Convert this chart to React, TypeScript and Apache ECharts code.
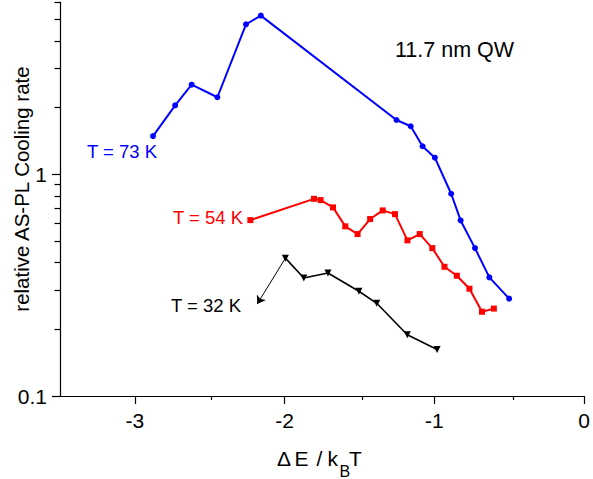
import React, { useEffect, useRef } from "react";
import * as echarts from "echarts";

const FONT = "'Liberation Sans', Arial, Helvetica, sans-serif";

// Axis ticks
const xTickValues = [-3, -2, -1, 0];
const xMinorTickValues = [-2.5, -1.5, -0.5];
const yTickValues = [0.1, 1];
const yMinorTickValues = [0.2, 0.3, 0.4, 0.5, 0.6, 0.7, 0.8, 0.9, 2, 3, 4, 5, 6];

// T = 73 K (blue)
const x73 = [-2.879, -2.731, -2.621, -2.449, -2.258, -2.159, -1.253, -1.158, -1.079, -0.997, -0.888, -0.825, -0.729, -0.633, -0.501];
const y73 = [1.49, 2.05, 2.54, 2.23, 4.76, 5.21, 1.76, 1.65, 1.34, 1.19, 0.818, 0.62, 0.465, 0.343, 0.275];

// T = 54 K (red)
const x54 = [-2.229, -1.804, -1.76, -1.677, -1.595, -1.513, -1.429, -1.345, -1.263, -1.18, -1.098, -1.014, -0.933, -0.85, -0.766, -0.682, -0.603];
const y54 = [0.622, 0.776, 0.766, 0.71, 0.583, 0.538, 0.629, 0.688, 0.662, 0.504, 0.538, 0.465, 0.383, 0.349, 0.305, 0.24, 0.248];

// T = 32 K (black)
const x32 = [-1.995, -1.872, -1.711, -1.504, -1.385, -1.181, -0.982];
const y32 = [0.419, 0.341, 0.359, 0.297, 0.262, 0.189, 0.162];

// Arrow from the 32 K peak to its label
const arrowStart = [-1.995, 0.419];
const arrowEnd = [-2.183, 0.26];

const zip = (xs: number[], ys: number[]) => xs.map((x, i) => [x, ys[i]]);

const fmt = (v: number) => String(Number(Number(v).toPrecision(6)));

const W = 593;
const H = 479;
const GRID = { left: 60, right: 4, top: 2, bottom: 83 };

export default function App() {
  const ref = useRef<HTMLDivElement>(null);

  useEffect(() => {
    if (!ref.current) return;
    const chart = echarts.init(ref.current, null, { renderer: "svg" });
    const axisColor = "#000";
    chart.setOption({
      animation: false,
      backgroundColor: "#fff",
      // grid 0: data + major ticks; grid 1 (same rect): minor ticks only
      grid: [
        { ...GRID, containLabel: false },
        { ...GRID, containLabel: false },
      ],
      xAxis: [
        {
          type: "value",
          gridIndex: 0,
          min: -3.5,
          max: 0,
          position: "bottom",
          axisLine: { show: true, onZero: false, lineStyle: { color: axisColor, width: 1.2 } },
          axisTick: { show: true, customValues: xTickValues, length: 8, lineStyle: { color: axisColor, width: 1.2 } },
          axisLabel: {
            show: true,
            customValues: xTickValues,
            margin: 14,
            fontSize: 21,
            color: "#000",
            fontFamily: FONT,
            formatter: (v: number) => fmt(v),
          },
          splitLine: { show: false },
        },
        {
          type: "value",
          gridIndex: 1,
          min: -3.5,
          max: 0,
          position: "bottom",
          axisLine: { show: false, onZero: false },
          axisTick: { show: true, customValues: xMinorTickValues, length: 4, lineStyle: { color: axisColor, width: 1.2 } },
          axisLabel: { show: false },
          splitLine: { show: false },
        },
      ],
      yAxis: [
        {
          type: "log",
          gridIndex: 0,
          logBase: 10,
          min: 0.1,
          max: 6,
          position: "left",
          axisLine: { show: true, onZero: false, lineStyle: { color: axisColor, width: 1.2 } },
          axisTick: { show: true, customValues: yTickValues, length: 8, lineStyle: { color: axisColor, width: 1.2 } },
          axisLabel: {
            show: true,
            customValues: yTickValues,
            margin: 13,
            fontSize: 21,
            color: "#000",
            fontFamily: FONT,
            formatter: (v: number) => fmt(v),
          },
          splitLine: { show: false },
        },
        {
          type: "log",
          gridIndex: 1,
          logBase: 10,
          min: 0.1,
          max: 6,
          position: "left",
          axisLine: { show: false, onZero: false },
          axisTick: { show: true, customValues: yMinorTickValues, length: 5.5, lineStyle: { color: axisColor, width: 1.2 } },
          axisLabel: { show: false },
          splitLine: { show: false },
        },
      ],
      series: [
        {
          name: "T = 73 K",
          type: "line",
          xAxisIndex: 0,
          yAxisIndex: 0,
          data: zip(x73, y73),
          symbol: "circle",
          symbolSize: 6,
          lineStyle: { color: "#0000ff", width: 2 },
          itemStyle: { color: "#0000ff" },
        },
        {
          name: "T = 54 K",
          type: "line",
          xAxisIndex: 0,
          yAxisIndex: 0,
          data: zip(x54, y54),
          symbol: "rect",
          symbolSize: 6,
          lineStyle: { color: "#ff0000", width: 2 },
          itemStyle: { color: "#ff0000" },
        },
        {
          name: "T = 32 K",
          type: "line",
          xAxisIndex: 0,
          yAxisIndex: 0,
          data: zip(x32, y32),
          symbol: "triangle",
          symbolRotate: 180,
          symbolSize: 7,
          lineStyle: { color: "#000", width: 1.6 },
          itemStyle: { color: "#000" },
          markLine: {
            silent: true,
            animation: false,
            symbol: ["none", "arrow"],
            symbolSize: 8,
            lineStyle: { color: "#000", width: 1, type: "solid" },
            label: { show: false },
            data: [[{ coord: arrowStart }, { coord: arrowEnd }]],
          },
        },
      ],
      graphic: [
        {
          type: "text",
          x: 395,
          y: 50,
          style: { text: "11.7 nm QW", fill: "#000", font: `21.5px ${FONT}`, align: "left", verticalAlign: "middle" },
        },
        {
          type: "text",
          x: 87,
          y: 151.7,
          style: { text: "T = 73 K", fill: "#0000ff", font: `18.5px ${FONT}`, align: "left", verticalAlign: "middle" },
        },
        {
          type: "text",
          x: 173,
          y: 217.2,
          style: { text: "T = 54 K", fill: "#ff0000", font: `18.5px ${FONT}`, align: "left", verticalAlign: "middle" },
        },
        {
          type: "text",
          x: 171,
          y: 305.7,
          style: { text: "T = 32 K", fill: "#000", font: `18.5px ${FONT}`, align: "left", verticalAlign: "middle" },
        },
        {
          type: "text",
          x: 21.7,
          y: 189,
          rotation: Math.PI / 2,
          style: { text: "relative AS-PL Cooling rate", fill: "#000", font: `20.5px ${FONT}`, align: "center", verticalAlign: "middle" },
        },
        {
          type: "text",
          x: 277,
          y: 458,
          style: { text: "\u0394", fill: "#000", font: `21px ${FONT}`, align: "left", verticalAlign: "middle" },
        },
        {
          type: "text",
          x: 294.5,
          y: 458,
          style: { text: "E", fill: "#000", font: `21px ${FONT}`, align: "left", verticalAlign: "middle" },
        },
        {
          type: "text",
          x: 316.5,
          y: 458,
          style: { text: "/", fill: "#000", font: `21px ${FONT}`, align: "left", verticalAlign: "middle" },
        },
        {
          type: "text",
          x: 327.5,
          y: 458,
          style: { text: "k", fill: "#000", font: `21px ${FONT}`, align: "left", verticalAlign: "middle" },
        },
        {
          type: "text",
          x: 339.5,
          y: 471,
          style: { text: "B", fill: "#000", font: `16px ${FONT}`, align: "left", verticalAlign: "middle" },
        },
        {
          type: "text",
          x: 349,
          y: 458,
          style: { text: "T", fill: "#000", font: `21px ${FONT}`, align: "left", verticalAlign: "middle" },
        },
      ],
    });
    return () => {
      chart.dispose();
    };
  }, []);

  return (
    <div
      ref={ref}
      style={{ position: "fixed", left: 0, top: 0, width: W, height: H, background: "#fff" }}
    />
  );
}
